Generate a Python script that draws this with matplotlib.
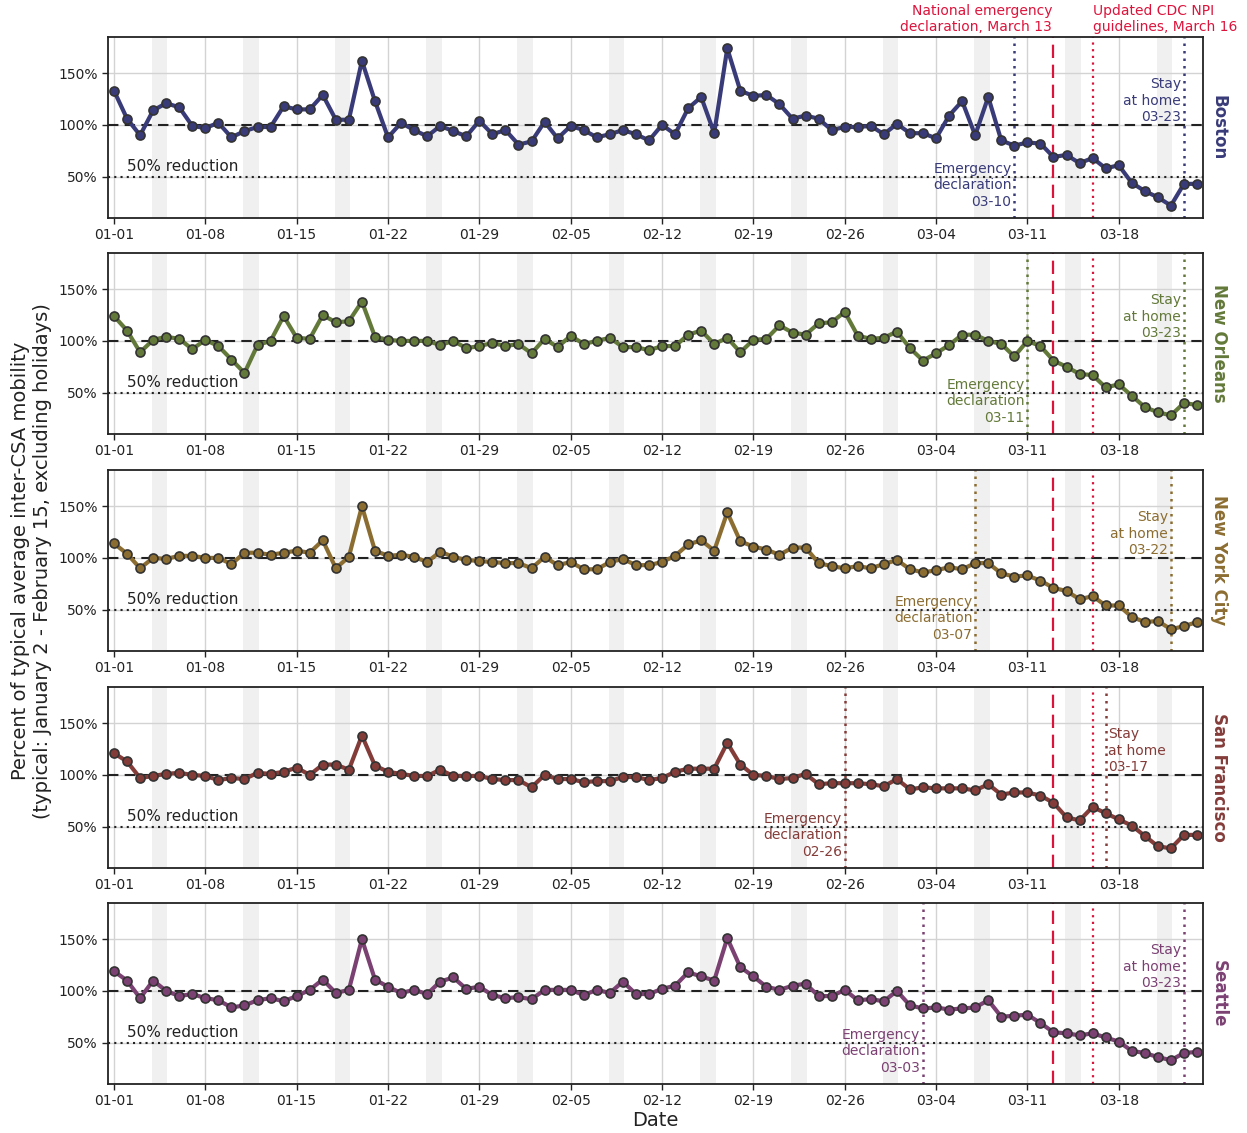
import matplotlib
matplotlib.use("Agg")
import matplotlib.pyplot as plt
import matplotlib.dates as mdates
from matplotlib.ticker import PercentFormatter
import pandas as pd

# daily mobility, percent of typical (01-01 .. 03-24)
dates = pd.date_range("2020-01-01", "2020-03-24", freq="D")

boston = [133, 106, 90, 114, 121, 117, 99, 97, 102, 88, 94, 98, 98, 118,
          115, 115, 129, 105, 105, 162, 123, 88, 102, 95, 89, 99, 94, 89,
          104, 91, 95, 81, 84, 103, 87, 99, 95, 88, 91, 95, 91, 85,
          100, 91, 116, 127, 92, 174, 133, 128, 129, 120, 106, 109, 106, 95,
          98, 98, 99, 91, 101, 92, 92, 87, 109, 123, 90, 127, 85, 80,
          83, 82, 69, 71, 63, 68, 58, 61, 44, 36, 30, 22, 43, 43]
new_orleans = [124, 110, 89, 101, 104, 102, 92, 101, 95, 82, 69, 96, 100, 124,
               103, 102, 125, 118, 119, 138, 104, 101, 100, 100, 100, 96, 100, 93,
               95, 98, 95, 97, 88, 102, 94, 105, 97, 100, 103, 94, 94, 91,
               95, 95, 106, 110, 97, 103, 89, 101, 102, 115, 108, 106, 117, 118,
               128, 105, 102, 103, 109, 93, 81, 88, 96, 106, 106, 100, 97, 85,
               100, 95, 81, 75, 68, 67, 55, 58, 47, 36, 31, 28, 40, 38]
new_york = [114, 104, 90, 100, 99, 102, 102, 100, 100, 94, 105, 105, 103, 105,
            107, 105, 117, 90, 101, 150, 107, 102, 103, 101, 96, 106, 101, 98,
            97, 96, 95, 95, 90, 101, 93, 96, 89, 89, 96, 99, 93, 93,
            96, 102, 113, 117, 107, 144, 116, 111, 108, 103, 110, 110, 95, 92,
            90, 92, 90, 94, 98, 89, 86, 88, 91, 89, 95, 95, 85, 82,
            83, 78, 71, 68, 60, 63, 54, 54, 43, 38, 39, 31, 34, 38]
san_francisco = [121, 113, 97, 99, 101, 102, 100, 99, 95, 97, 96, 102, 101, 103,
                 107, 100, 110, 110, 105, 138, 109, 103, 101, 99, 99, 105, 99, 99,
                 99, 96, 95, 95, 88, 100, 96, 96, 93, 94, 94, 98, 98, 95,
                 97, 103, 106, 106, 106, 131, 110, 100, 99, 96, 97, 101, 91, 92,
                 92, 92, 91, 89, 96, 86, 88, 87, 87, 87, 85, 91, 81, 83,
                 83, 80, 73, 59, 56, 69, 63, 57, 51, 41, 31, 29, 42, 42]
seattle = [119, 110, 93, 110, 100, 95, 97, 93, 91, 84, 86, 91, 93, 90,
           95, 101, 111, 98, 101, 150, 111, 104, 98, 101, 97, 109, 113, 102,
           104, 96, 93, 94, 92, 101, 101, 101, 96, 101, 98, 109, 97, 97,
           102, 105, 118, 114, 110, 151, 123, 114, 104, 101, 105, 107, 95, 95,
           101, 91, 92, 90, 100, 86, 83, 84, 82, 83, 84, 91, 75, 76,
           77, 69, 60, 59, 57, 59, 55, 51, 42, 40, 36, 33, 40, 41]

cities = ["Boston", "New Orleans", "New York City", "San Francisco", "Seattle"]
series = [boston, new_orleans, new_york, san_francisco, seattle]
colors = ["#393b79", "#637939", "#8c6d31", "#843c39", "#7b4173"]
emergency_dates = ["2020-03-10", "2020-03-11", "2020-03-07", "2020-02-26", "2020-03-03"]
stay_home_dates = ["2020-03-23", "2020-03-23", "2020-03-22", "2020-03-17", "2020-03-23"]
stay_text_right = [False, False, False, True, False]

national_emergency = "2020-03-13"
cdc_guidelines = "2020-03-16"

plt.rcParams["font.family"] = "DejaVu Sans"
plt.rcParams["text.color"] = "#222222"
plt.rcParams["axes.labelcolor"] = "#222222"
plt.rcParams["xtick.color"] = "#222222"
plt.rcParams["ytick.color"] = "#222222"

W, H = 1247, 1133
fig = plt.figure(figsize=(W / 100, H / 100), dpi=100)

left, right = 108, 1203
tops = [37, 253, 470, 687, 903]
ph = 181
one_day = pd.Timedelta(days=1)
axes = []

for i, (city, vals, col) in enumerate(zip(cities, series, colors)):
    ax = fig.add_axes([left / W, 1 - (tops[i] + ph) / H, (right - left) / W, ph / H])
    axes.append(ax)

    # weekend shading
    for d in dates:
        if d.weekday() == 5:
            ax.axvspan(d - 0.1 * one_day, d + 1.1 * one_day, color="#f0f0f0", lw=0, zorder=0)

    ax.grid(True, color="#d3d3d3", lw=1, zorder=0.5)
    ax.set_axisbelow(True)

    ax.axhline(100, color="#222222", ls=(0, (5, 3)), lw=1.5, zorder=1)
    ax.axhline(50, color="#222222", ls=(0, (1, 2)), lw=1.5, zorder=1)
    ax.text(dates[1], 53, "50% reduction", fontsize=11, ha="left", va="bottom")

    ax.axvline(pd.Timestamp(national_emergency), color="crimson", ls=(0, (6, 3)), lw=1.6, zorder=2)
    ax.axvline(pd.Timestamp(cdc_guidelines), color="crimson", ls=(0, (1, 2)), lw=1.6, zorder=2)

    emerg = pd.Timestamp(emergency_dates[i])
    stay = pd.Timestamp(stay_home_dates[i])
    ax.axvline(emerg, color=col, ls=(0, (1, 2)), lw=1.8, zorder=2)
    ax.axvline(stay, color=col, ls=(0, (1, 2)), lw=1.8, zorder=2)

    ax.annotate("Emergency\ndeclaration\n" + emerg.strftime("%m-%d"),
                xy=(emerg, 19), xycoords="data", xytext=(-2, 0), textcoords="offset points",
                ha="right", va="bottom", multialignment="right", fontsize=10, color=col)
    if stay_text_right[i]:
        ax.annotate("Stay\nat home\n" + stay.strftime("%m-%d"),
                    xy=(stay, 146), xycoords="data", xytext=(2, 0), textcoords="offset points",
                    ha="left", va="top", multialignment="left", fontsize=10, color=col)
    else:
        ax.annotate("Stay\nat home\n" + stay.strftime("%m-%d"),
                    xy=(stay, 146), xycoords="data", xytext=(-2, 0), textcoords="offset points",
                    ha="right", va="top", multialignment="right", fontsize=10, color=col)

    ax.plot(dates, vals, "-o", color=col, lw=3, ms=6.5, mec="#333333", mew=1.2, zorder=3)

    ax.set_ylim(10, 185)
    ax.set_yticks([50, 100, 150])
    ax.yaxis.set_major_formatter(PercentFormatter(xmax=100, decimals=0))
    ax.set_xlim(dates[0] - 0.46 * one_day, dates[-1] + 0.46 * one_day)
    ax.xaxis.set_major_locator(mdates.WeekdayLocator(byweekday=mdates.WE))
    ax.xaxis.set_major_formatter(mdates.DateFormatter("%m-%d"))
    ax.tick_params(labelsize=10, length=4, width=1)
    for sp in ax.spines.values():
        sp.set_linewidth(1.3)
        sp.set_color("#222222")

    ax.text(1.006, 0.5, city, transform=ax.transAxes, rotation=270, ha="left", va="center",
            fontsize=12, fontweight="bold", color=col)

top_ax = axes[0]
top_ax.annotate("National emergency\ndeclaration, March 13",
                xy=(pd.Timestamp(national_emergency), 1), xycoords=("data", "axes fraction"),
                xytext=(-1, 2), textcoords="offset points", ha="right", va="bottom",
                multialignment="right", fontsize=10, color="crimson")
top_ax.annotate("Updated CDC NPI\nguidelines, March 16",
                xy=(pd.Timestamp(cdc_guidelines), 1), xycoords=("data", "axes fraction"),
                xytext=(0, 2), textcoords="offset points", ha="left", va="bottom",
                multialignment="left", fontsize=10, color="crimson")

fig.text(32 / W, 1 - 561 / H,
         "Percent of typical average inter-CSA mobility\n(typical: January 2 - February 15, excluding holidays)",
         rotation=90, ha="center", va="center", multialignment="center", fontsize=14)
fig.text((left + right) / 2 / W, 1 - 1121 / H, "Date", ha="center", va="center", fontsize=14)

fig.savefig("out.png", dpi=100)
